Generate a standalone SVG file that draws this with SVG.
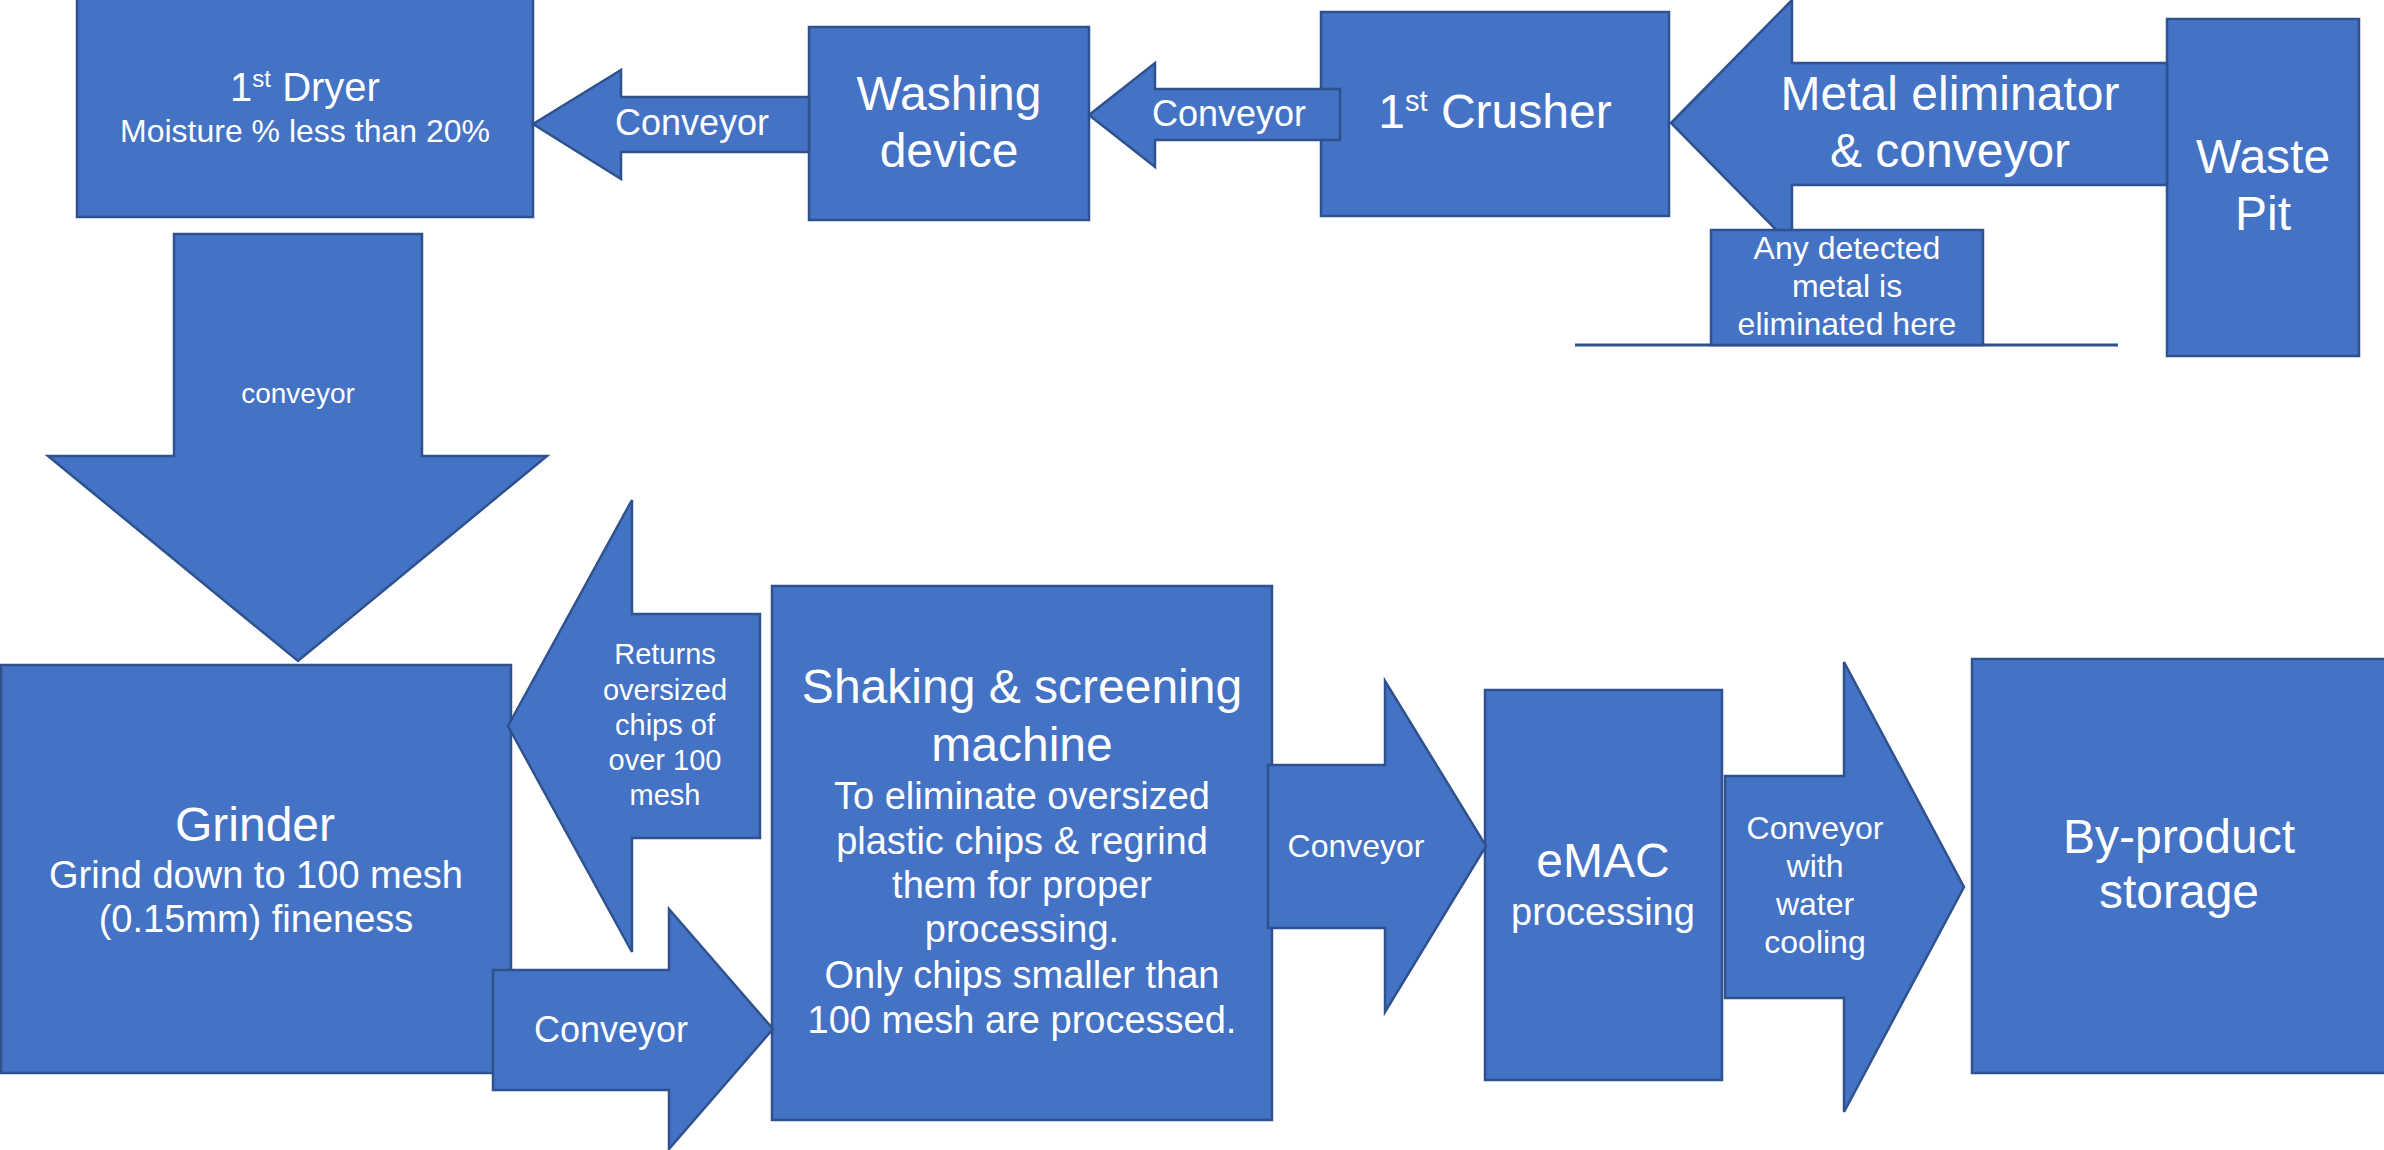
<svg xmlns="http://www.w3.org/2000/svg" width="2384" height="1150" viewBox="0 0 2384 1150">
<style>
.box{fill:#4472C4;stroke:#2F528F;stroke-width:2.5}
.arr{fill:#4472C4;stroke:#2F528F;stroke-width:2.5;stroke-linejoin:miter}
text{font-family:"Liberation Sans",Arial,sans-serif;fill:#FFFFFF;text-anchor:middle}
.t48{font-size:48px}
.t40{font-size:40px}
.t38{font-size:38px}
.t36{font-size:36px}
.t32{font-size:32px}
.t29{font-size:29px}
.t28{font-size:28px}
</style>
<rect width="2384" height="1150" fill="#FFFFFF"/>

<g id="dryer">
<rect class="box" x="77" y="-3" width="456" height="220"/>
<text class="t40" x="305" y="101">1<tspan font-size="24" dy="-14">st</tspan><tspan dy="14"> Dryer</tspan></text>
<text class="t32" x="305" y="142">Moisture % less than 20%</text>
</g>

<g id="washing">
<rect class="box" x="809" y="27" width="280" height="193"/>
<text class="t48" x="949" y="110">Washing</text>
<text class="t48" x="949" y="167">device</text>
</g>

<g id="crusher">
<rect class="box" x="1321" y="12" width="348" height="204"/>
<text class="t48" x="1495" y="128">1<tspan font-size="29" dy="-17">st</tspan><tspan dy="17"> Crusher</tspan></text>
</g>

<g id="waste-pit">
<rect class="box" x="2167" y="19" width="192" height="337"/>
<text class="t48" x="2263" y="173">Waste</text>
<text class="t48" x="2263" y="230">Pit</text>
</g>

<g id="grinder">
<rect class="box" x="1" y="665" width="510" height="408"/>
<text class="t48" x="255" y="841">Grinder</text>
<text class="t38" x="256" y="888">Grind down to 100 mesh</text>
<text class="t38" x="256" y="932">(0.15mm) fineness</text>
</g>

<g id="shaking">
<rect class="box" x="772" y="586" width="500" height="534"/>
<text class="t48" x="1022" y="703">Shaking &amp; screening</text>
<text class="t48" x="1022" y="761">machine</text>
<text class="t38" x="1022" y="809">To eliminate oversized</text>
<text class="t38" x="1022" y="854">plastic chips &amp; regrind</text>
<text class="t38" x="1022" y="898">them for proper</text>
<text class="t38" x="1022" y="942">processing.</text>
<text class="t38" x="1022" y="988">Only chips smaller than</text>
<text class="t38" x="1022" y="1033">100 mesh are processed.</text>
</g>

<g id="emac">
<rect class="box" x="1485" y="690" width="237" height="390"/>
<text class="t48" x="1603" y="877">eMAC</text>
<text class="t38" x="1603" y="925">processing</text>
</g>

<g id="by-product">
<rect class="box" x="1972" y="659" width="420" height="414"/>
<text class="t48" x="2179" y="853">By-product</text>
<text class="t48" x="2179" y="908">storage</text>
</g>

<g id="connectors">
<g id="conv-washing-dryer">
<polygon class="arr" points="533,124 621,70 621,97 809,97 809,152 621,152 621,179"/>
<text class="t36" x="692" y="135">Conveyor</text>
</g>
<g id="conv-crusher-washing">
<polygon class="arr" points="1089,115 1155,63 1155,89 1340,89 1340,140 1155,140 1155,167"/>
<text class="t36" x="1229" y="126">Conveyor</text>
</g>
<g id="metal-eliminator">
<polygon class="arr" points="1671,123 1792,0 1792,63 2167,63 2167,185 1792,185 1792,246"/>
<text class="t48" x="1950" y="110">Metal eliminator</text>
<text class="t48" x="1950" y="167">&amp; conveyor</text>
</g>
<g id="conv-dryer-grinder">
<polygon class="arr" points="174,234 422,234 422,456 547,456 298,661 48,456 174,456"/>
<text class="t28" x="298" y="403">conveyor</text>
</g>
<g id="returns">
<polygon class="arr" points="508,726 632,500 632,614 760,614 760,838 632,838 632,952"/>
<text class="t29" x="665" y="664">Returns</text>
<text class="t29" x="665" y="700">oversized</text>
<text class="t29" x="665" y="735">chips of</text>
<text class="t29" x="665" y="770">over 100</text>
<text class="t29" x="665" y="805">mesh</text>
</g>
<g id="conv-grinder-shaking">
<polygon class="arr" points="493,970 669,970 669,909 773,1029 669,1149 669,1090 493,1090"/>
<text class="t36" x="611" y="1042">Conveyor</text>
</g>
<g id="conv-shaking-emac">
<polygon class="arr" points="1268,765 1385,765 1385,681 1486,846 1385,1012 1385,928 1268,928"/>
<text class="t32" x="1356" y="857">Conveyor</text>
</g>
<g id="conv-emac-storage">
<polygon class="arr" points="1725,776 1844,776 1844,662 1964,887 1844,1112 1844,998 1725,998"/>
<text class="t32" x="1815" y="839">Conveyor</text>
<text class="t32" x="1815" y="877">with</text>
<text class="t32" x="1815" y="915">water</text>
<text class="t32" x="1815" y="953">cooling</text>
</g>
</g>

<g id="metal-note">
<line x1="1575" y1="345" x2="2118" y2="345" stroke="#2F528F" stroke-width="3"/>
<rect class="box" x="1711" y="230" width="272" height="115"/>
<text class="t32" x="1847" y="259">Any detected</text>
<text class="t32" x="1847" y="297">metal is</text>
<text class="t32" x="1847" y="335">eliminated here</text>
</g>
</svg>
